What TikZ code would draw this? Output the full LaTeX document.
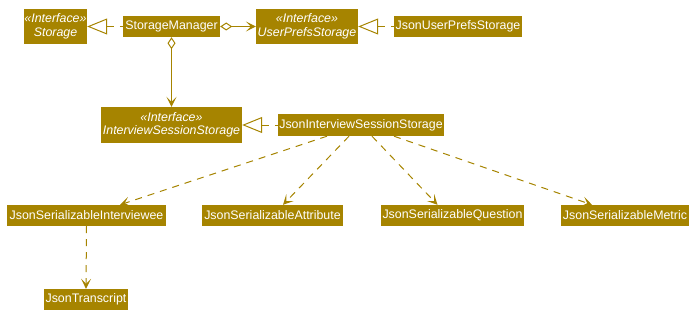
\documentclass[tikz,border=0pt]{standalone}
\usepackage{fontspec}
\setmainfont{Liberation Sans}
\usetikzlibrary{arrows.meta}
\definecolor{umlgold}{HTML}{A68400}
\tikzset{
  cls/.style={fill=umlgold, draw=none, text=white, inner sep=0pt,
    font=\fontsize{12.4}{14}\selectfont, align=center},
  iface/.style={cls, font=\fontsize{12.4}{13.5}\itshape\selectfont},
  link/.style={draw=umlgold, line width=1pt},
  realize/.style={link, dash pattern=on 7pt off 6pt,
    {Triangle[open, length=20pt, width=16pt, line width=1pt]}-},
  depend/.style={link, dash pattern=on 7pt off 6pt,
    -{Stealth[length=10pt, width=10pt, inset=5pt, fill=umlgold]}},
  aggr/.style={link,
    {Diamond[open, length=12pt, width=8pt, line width=1pt]}-{Stealth[length=10pt, width=10pt, inset=5pt, fill=umlgold]}}
}
\begin{document}
\begin{tikzpicture}[x=1pt, y=-1pt]
\useasboundingbox (0,0) rectangle (699,321);

% top row
\node[iface, minimum width=63pt, minimum height=35pt] (storage) at (55.5,26.5)
  {«Interface»\\Storage};
\node[cls, minimum width=97pt, minimum height=21pt] (manager) at (171.5,26.5)
  {StorageManager};
\node[iface, minimum width=102pt, minimum height=35pt] (prefs) at (307,26.5)
  {«Interface»\\UserPrefsStorage};
\node[cls, minimum width=128pt, minimum height=21pt] (jsonprefs) at (458,26.5)
  {JsonUserPrefsStorage};

% middle row
\node[iface, minimum width=141pt, minimum height=36pt] (session) at (171.5,125)
  {«Interface»\\InterviewSessionStorage};
\node[cls, minimum width=166pt, minimum height=22pt] (jsonsession) at (361,125)
  {JsonInterviewSessionStorage};

% serializable classes
\node[cls, minimum width=159pt, minimum height=21pt] (interviewee) at (86.5,215.5)
  {JsonSerializableInterviewee};
\node[cls, minimum width=141pt, minimum height=21pt] (attribute) at (272.5,215.5)
  {JsonSerializableAttribute};
\node[cls, minimum width=143pt, minimum height=21pt] (question) at (452.5,215.5)
  {JsonSerializableQuestion};
\node[cls, minimum width=128pt, minimum height=21pt] (metric) at (625,215.5)
  {JsonSerializableMetric};
\node[cls, minimum width=84pt, minimum height=21pt] (transcript) at (86,299.5)
  {JsonTranscript};

% realizations
\draw[realize] (storage.east) -- (manager.west);
\draw[realize] (prefs.east) -- (jsonprefs.west);
\draw[realize] (session.east) -- (jsonsession.west);

% aggregations
\draw[aggr] (manager.east) -- (prefs.west);
\draw[aggr] (manager.south) -- (session.north);

% dependencies
\draw[depend] ([xshift=-34pt]jsonsession.south) -- ([xshift=33.5pt]interviewee.north);
\draw[depend] ([xshift=-12pt]jsonsession.south) -- ([xshift=10.5pt]attribute.north);
\draw[depend] ([xshift=11pt]jsonsession.south) -- ([xshift=-15pt]question.north);
\draw[depend] ([xshift=33pt]jsonsession.south) -- ([xshift=-33pt]metric.north);
\draw[depend] (interviewee.south) -- (transcript.north);
\end{tikzpicture}
\end{document}
